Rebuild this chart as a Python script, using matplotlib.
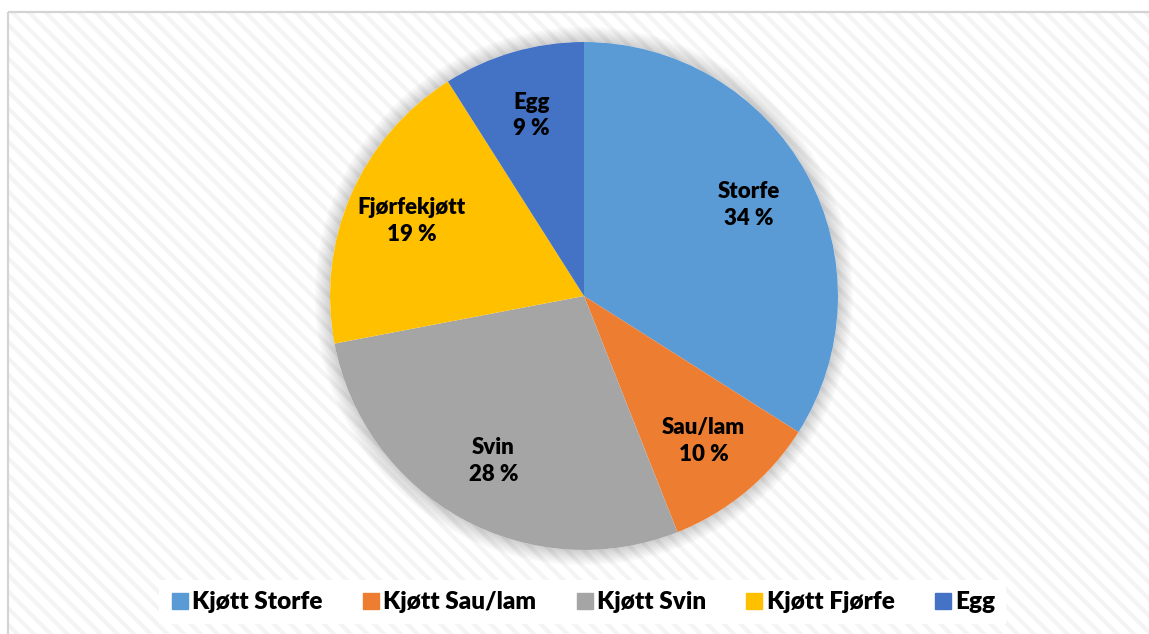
import numpy as np
import matplotlib.pyplot as plt
from matplotlib.patches import Rectangle, Circle
from matplotlib.lines import Line2D

# Andel per kategori (%)
kategorier = ['Storfe', 'Sau/lam', 'Svin', 'Fjørfekjøtt', 'Egg']
legend_navn = ['Kjøtt Storfe', 'Kjøtt Sau/lam', 'Kjøtt Svin', 'Kjøtt Fjørfe', 'Egg']
andel = [34, 10, 28, 19, 9]
farger = ['#5B9BD5', '#ED7D31', '#A5A5A5', '#FFC000', '#4472C4']

plt.rcParams['font.family'] = ['Lato', 'DejaVu Sans']
plt.rcParams['hatch.linewidth'] = 3.0

W, H = 1149, 634
fig = plt.figure(figsize=(W / 100, H / 100), dpi=100)

# bakgrunn med skraverte striper
bg = fig.add_axes([0, 0, 1, 1])
bg.set_xlim(0, W)
bg.set_ylim(H, 0)
bg.axis('off')
bg.add_patch(Rectangle((8, 12), W, H, facecolor='white', edgecolor='#f4f4f4',
                       linewidth=0, hatch='\\\\', zorder=0))
bg.add_patch(Rectangle((8, 12), W, H, facecolor='none', edgecolor='#d4d4d4',
                       linewidth=1.6, zorder=1))

# kakediagram
cx, cy, r = 584, 296, 254
lim = 1.15
ax = fig.add_axes([(cx - r * lim) / W, (H - cy - r * lim) / H,
                   2 * r * lim / W, 2 * r * lim / H])

# skygge rundt kaken
for k in np.linspace(1.0, 1.06, 10):
    ax.add_patch(Circle((0, 0), k, facecolor='#000000', alpha=0.02,
                        edgecolor='none', zorder=0))
ax.add_patch(Circle((0, 0), 1.0, facecolor='white', edgecolor='none', zorder=0))

wedges, _ = ax.pie(andel, colors=farger, startangle=90, counterclock=False,
                   radius=1, wedgeprops=dict(linewidth=0))
ax.set_xlim(-lim, lim)
ax.set_ylim(-lim, lim)
ax.axis('off')

for w, navn, v in zip(wedges, kategorier, andel):
    mid = np.deg2rad((w.theta1 + w.theta2) / 2)
    d = 0.74
    ax.text(d * np.cos(mid), d * np.sin(mid), f'{navn}\n{v} %',
            ha='center', va='center', fontsize=16, fontweight='heavy',
            color='black', linespacing=1.35)

# forklaring
handles = [Line2D([], [], marker='s', linestyle='none', markersize=11,
                  markerfacecolor=c, markeredgecolor=c) for c in farger]
leg = fig.legend(handles, legend_navn, loc='center', bbox_to_anchor=(0.507, 0.05),
                 ncol=5, frameon=True, fancybox=False, handletextpad=0.1,
                 columnspacing=1.6, handlelength=0.8, borderpad=0.45,
                 prop=dict(size=17.5, weight='heavy'))
leg.get_frame().set_facecolor('white')
leg.get_frame().set_edgecolor('none')
leg.get_frame().set_alpha(1)

fig.savefig('out.png', dpi=100)
